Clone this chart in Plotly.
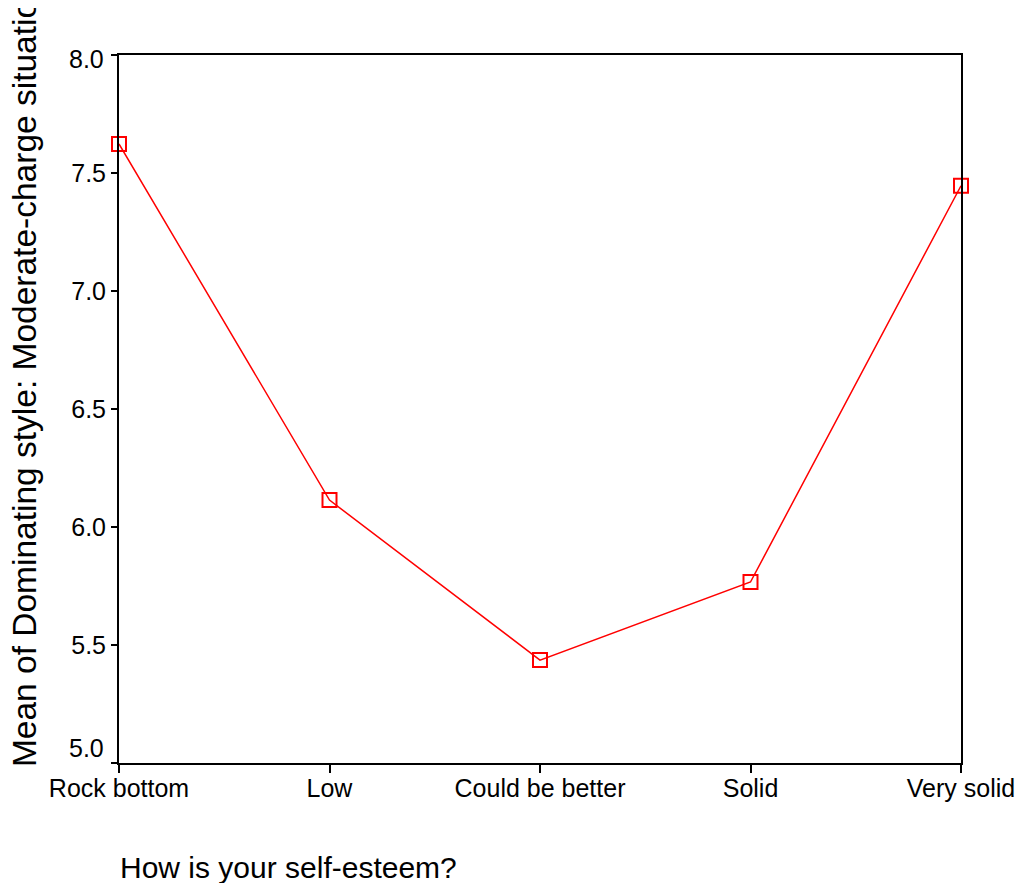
import plotly.graph_objects as go

categories = ["Rock bottom", "Low", "Could be better", "Solid", "Very solid"]
means = [7.623, 6.114, 5.436, 5.767, 7.446]
y_ticks = [5.0, 5.5, 6.0, 6.5, 7.0, 7.5, 8.0]

positions = list(range(len(categories)))
y_labels = [f"{v:.1f}" for v in y_ticks]
# end labels are nudged inside the axis extent (as in the reference)
end_shift = {y_ticks[0]: 15, y_ticks[-1]: -4}

fig = go.Figure()
fig.add_trace(go.Scatter(
    x=positions, y=means, mode="lines+markers",
    line=dict(color="#ff0000", width=1.5),
    marker=dict(symbol="square-open", size=14, color="#ff0000", line=dict(width=2, color="#ff0000")),
    cliponaxis=False, showlegend=False,
))

font = "Liberation Sans, Arial, sans-serif"
annotations = [
    dict(text="How is your self-esteem?", xref="paper", yref="paper",
         x=-0.001, y=-0.148, xanchor="left", yanchor="middle", showarrow=False,
         font=dict(size=30, family=font, color="black")),
    dict(text="Mean of Dominating style: Moderate-charge situation", xref="paper", yref="paper",
         x=-0.112, y=-0.009, xanchor="center", yanchor="bottom", textangle=-90, showarrow=False,
         font=dict(size=33.5, family=font, color="black")),
]
for v, lab in zip(y_ticks, y_labels):
    if v in end_shift:
        annotations.append(dict(text=lab, xref="paper", yref="y", x=0, y=v, xanchor="right",
                                yanchor="middle", xshift=-13, yshift=end_shift[v], showarrow=False,
                                font=dict(size=25, family=font, color="black")))

fig.update_layout(
    width=1011, height=875,
    margin=dict(l=111, r=58, t=47, b=120, autoexpand=False),
    paper_bgcolor="white", plot_bgcolor="white",
    font=dict(family=font, color="black"),
    xaxis=dict(
        range=[0, 4], tickvals=positions, ticktext=categories, automargin=False,
        showgrid=False, zeroline=False, showline=True, linecolor="black", linewidth=2,
        mirror=True, ticks="outside", ticklen=8, tickwidth=2, tickcolor="black",
        ticklabelstandoff=-6,
        tickfont=dict(size=25, family=font, color="black"),
    ),
    yaxis=dict(
        range=[5.0, 8.0], tickvals=y_ticks,
        ticktext=["" if v in end_shift else lab for v, lab in zip(y_ticks, y_labels)],
        automargin=False,
        showgrid=False, zeroline=False, showline=True, linecolor="black", linewidth=2,
        mirror=True, ticks="outside", ticklen=6, tickwidth=2, tickcolor="black",
        tickfont=dict(size=25, family=font, color="black"),
    ),
    annotations=annotations,
)

fig.write_html("out.html")
